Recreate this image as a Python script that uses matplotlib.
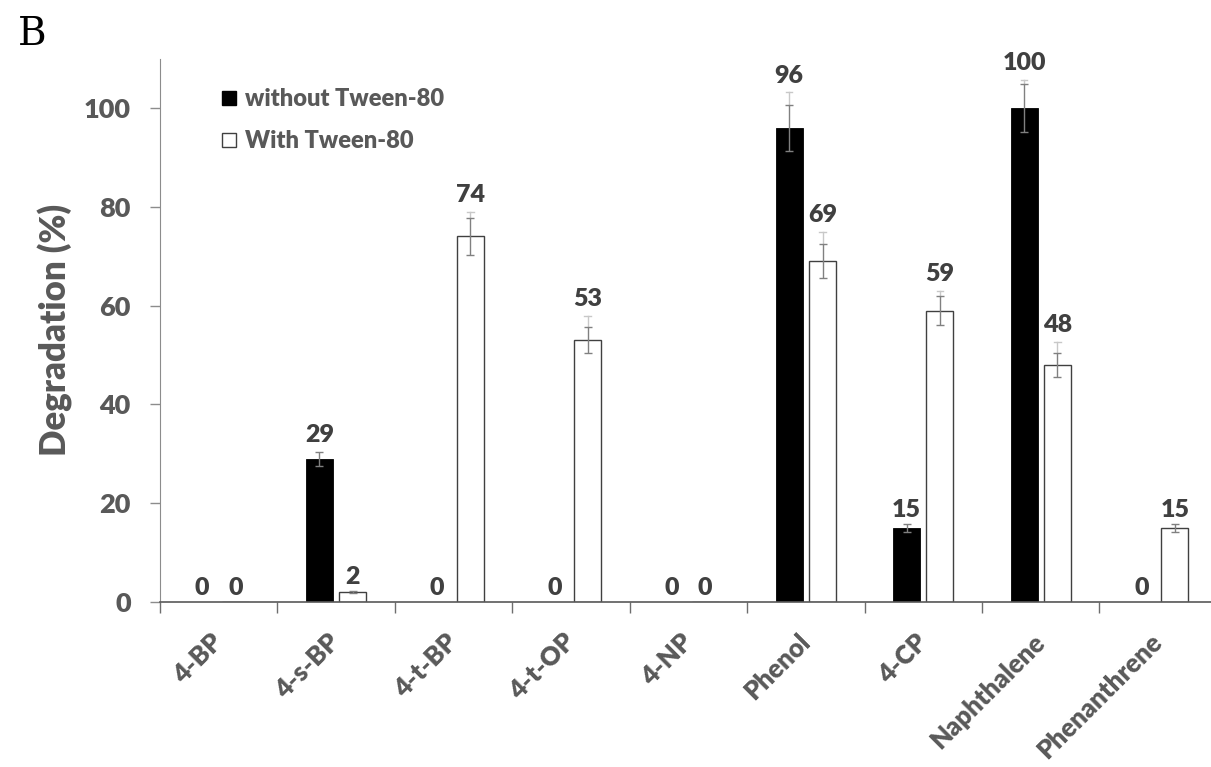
import matplotlib
matplotlib.use("Agg")
import matplotlib.pyplot as plt
import matplotlib.transforms as mtransforms
from matplotlib.lines import Line2D
import numpy as np

categories = ["4-BP", "4-s-BP", "4-t-BP", "4-t-OP", "4-NP", "Phenol", "4-CP",
              "Naphthalene", "Phenanthrene"]
without_tween = [0, 29, 0, 0, 0, 96, 15, 100, 0]
without_err = [0, 1.4, 0, 0, 0, 4.7, 0.75, 4.9, 0]
without_err_ext = [0, 1.4, 0, 0, 0, 7.2, 0.75, 5.7, 0]
with_tween = [0, 2, 74, 53, 0, 69, 59, 48, 15]
with_err = [0, 0.2, 3.8, 2.6, 0, 3.5, 3.0, 2.5, 0.75]
with_err_ext = [0, 0.2, 5.0, 4.9, 0, 5.9, 4.0, 4.6, 0.75]
yticks = [0, 20, 40, 60, 80, 100]

FW = 'heavy'
plt.rcParams['font.family'] = ['Lato', 'DejaVu Sans']
plt.rcParams['font.weight'] = FW

fig = plt.figure(figsize=(12.11, 7.67), dpi=100)
ax = fig.add_axes([160/1211, 1-602/767, 1-160/1211, (602-58.6)/767])

x = np.arange(len(categories))
off = 0.142
w = 0.23
tick_gray = '#595959'
lab_gray = '#404040'

ax.bar(x - off, without_tween, w, color='black', edgecolor='black', linewidth=0.6, zorder=2)
ax.bar(x + off, with_tween, w, color='white', edgecolor='#404040', linewidth=1.0, zorder=2)

def draw_err(xs, vals, errs, exts):
    for xi, v, e, ex in zip(xs, vals, errs, exts):
        if e <= 0:
            continue
        if ex > e:
            ax.plot([xi, xi], [v + e, v + ex], color='#c8c8c8', lw=1.0, zorder=3)
            ax.plot([xi - 0.028, xi + 0.028], [v + ex, v + ex], color='#c8c8c8', lw=1.0, zorder=3)
        ax.errorbar([xi], [v], yerr=[e], fmt='none', ecolor='#808080', elinewidth=1.0,
                    capsize=3, capthick=1.0, zorder=4)

draw_err(x - off, without_tween, without_err, without_err_ext)
draw_err(x + off, with_tween, with_err, with_err_ext)

def labels(xs, vals, exts, size):
    for xi, v, ex in zip(xs, vals, exts):
        ax.annotate(f"{v}", (xi, v + ex), xytext=(0, 12 if v > 20 else 10),
                    textcoords='offset points', ha='center', va='center',
                    fontsize=size, fontweight=FW, color=lab_gray, zorder=5)

labels(x - off, without_tween, without_err_ext, 18)
labels(x + off, with_tween, with_err_ext, 18)

ax.set_xlim(-0.5, 8.45)
ax.set_ylim(0, 110)
ax.set_yticks(yticks)
ax.set_yticklabels([str(t) for t in yticks], fontsize=19.5, fontweight=FW, color=tick_gray)
ax.tick_params(axis='y', direction='out', length=7, width=1, color='#8c8c8c', pad=14)

ax.set_xticks(np.arange(-0.5, 8.0, 1.0))
ax.set_xticklabels([])
ax.tick_params(axis='x', which='major', direction='out', length=8, width=1, color='#6e6e6e')
ax.set_xticks(x, minor=True)
ax.set_xticklabels([])
ax.tick_params(axis='x', which='minor', length=0)

trans = ax.get_xaxis_transform() + mtransforms.ScaledTranslation(0/100, -36/100, fig.dpi_scale_trans)
for xi, name in zip(x, categories):
    ax.text(xi, 0, name, transform=trans, rotation=45, rotation_mode='anchor',
            ha='right', va='center', fontsize=18.5, fontweight=FW, color=tick_gray)

for s in ['top', 'right']:
    ax.spines[s].set_visible(False)
ax.spines['left'].set_color('#8c8c8c')
ax.spines['bottom'].set_color('#595959')
ax.spines['bottom'].set_linewidth(1.2)

ax.set_ylabel("Degradation (%)", fontsize=25, fontweight=FW, color=tick_gray, labelpad=8)

handles = [Line2D([], [], marker='s', linestyle='none', markersize=9.5,
                  markerfacecolor='black', markeredgecolor='black'),
           Line2D([], [], marker='s', linestyle='none', markersize=9.5,
                  markerfacecolor='white', markeredgecolor='#404040', markeredgewidth=1)]
leg = ax.legend(handles, ["without Tween-80", "With Tween-80"], loc='upper left',
                bbox_to_anchor=(0.045, 0.968), frameon=False, fontsize=17,
                handlelength=0.8, handletextpad=0.3, labelspacing=0.85, borderpad=0)
for t in leg.get_texts():
    t.set_color(tick_gray)
    t.set_fontweight(FW)

fig.text(18/1211, 1-45/767, "B", family='DejaVu Serif', fontsize=28, fontweight='normal',
         ha='left', va='baseline', color='black')

fig.savefig("out.png", dpi=100)
